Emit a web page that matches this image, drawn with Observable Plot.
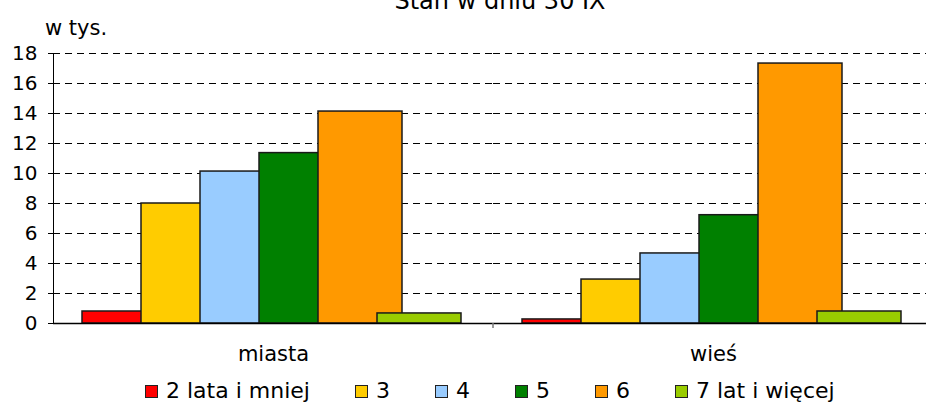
<!DOCTYPE html>
<html>
<head>
<meta charset="utf-8">
<script src="https://cdn.jsdelivr.net/npm/d3@7"></script>
<script src="https://cdn.jsdelivr.net/npm/@observablehq/plot@0.6"></script>
<style>
  html, body { margin: 0; padding: 0; overflow: hidden; background: #fff; }
  #wrap { position: relative; width: 926px; height: 404px; overflow: hidden;
          font-family: "DejaVu Sans", Verdana, sans-serif; color: #000; }
  #title { position: absolute; left: 500px; top: -11px; transform: translateX(-50%);
           font-size: 24px; line-height: 24px; white-space: nowrap; }
  #unit { position: absolute; left: 45px; top: 18px; font-size: 21px; line-height: 21px; white-space: nowrap; }
  #chart { position: absolute; left: 0; top: 0; }
  #legend { position: absolute; left: 145px; top: 382px; font-size: 22px; line-height: 18px;
            white-space: nowrap; display: flex; gap: 45px; }
  #legend .item { display: inline-block; }
  #legend .sw { display: inline-block; width: 11px; height: 11px; border: 1px solid #222;
                margin-right: 8px; vertical-align: baseline; }
</style>
</head>
<body>
<div id="wrap">
  <div id="chart"></div>
  <div id="title"></div>
  <div id="unit"></div>
  <div id="legend"></div>
</div>
<script>
const titleText = "Stan w dniu 30 IX";
const unitText = "w tys.";
const categories = ["miasta", "wieś"];
const series = ["2 lata i mniej", "3", "4", "5", "6", "7 lat i więcej"];
const colors = ["#FF0000", "#FFCC00", "#99CCFF", "#008000", "#FF9900", "#99CC00"];
const miastaValues = [0.8, 8.0, 10.13, 11.36, 14.13, 0.67];
const wiesValues = [0.27, 2.93, 4.67, 7.22, 17.33, 0.8];
const yTicks = [0, 2, 4, 6, 8, 10, 12, 14, 16, 18];

const valuesByCat = {"miasta": miastaValues, "wieś": wiesValues};
const data = [];
for (const c of categories) {
  series.forEach((s, i) => data.push({cat: c, series: s, value: valuesByCat[c][i]}));
}

document.getElementById("title").textContent = titleText;
document.getElementById("unit").textContent = unitText;

const plot = Plot.plot({
  width: 933,
  height: 370,
  marginTop: 53,
  marginBottom: 47,
  marginLeft: 53,
  marginRight: 0,
  style: {fontFamily: "DejaVu Sans, Verdana, sans-serif", fontSize: "20px", background: "transparent", maxWidth: "none", overflow: "visible", color: "#000"},
  fx: {domain: categories, padding: 0, axis: "bottom", tickSize: 0, tickPadding: 23, label: null},
  x: {domain: series, paddingInner: 0, paddingOuter: 0.69, align: 0.34, axis: null},
  y: {domain: [0, 18], ticks: yTicks, tickSize: 5, tickPadding: 11, label: null, line: true, tickFormat: d => String(d)},
  color: {domain: series, range: colors},
  marks: [
    Plot.ruleY(yTicks.filter(d => d > 0), {stroke: "#000", strokeWidth: 1, strokeDasharray: "7,5"}),
    Plot.barY(data, {fx: "cat", x: "series", y: "value", fill: "series", stroke: "#1a1a1a", strokeWidth: 1.5, insetRight: -25}),
    Plot.ruleY([0], {stroke: "#000", strokeWidth: 1.5})
  ]
});
document.getElementById("chart").appendChild(plot);

// fx axis label size, category boundary ticks
const svg = d3.select(plot);
svg.selectAll("[aria-label='fx-axis'] text, [aria-label='fx-axis tick label'] text").attr("font-size", "21px").style("font-size", "21px");
const fx = plot.scale("fx");
const yS = plot.scale("y");
const y0 = yS.apply(0);
for (const c of categories.slice(1)) {
  const xx = fx.apply(c);
  svg.append("line").attr("x1", xx).attr("x2", xx).attr("y1", y0).attr("y2", y0 + 5)
    .attr("stroke", "#777").attr("stroke-width", 1.5);
}

const legend = document.getElementById("legend");
series.forEach((s, i) => {
  const it = document.createElement("span");
  it.className = "item";
  const sw = document.createElement("span");
  sw.className = "sw";
  sw.style.background = colors[i];
  it.appendChild(sw);
  it.appendChild(document.createTextNode(s));
  legend.appendChild(it);
});
</script>
</body>
</html>
